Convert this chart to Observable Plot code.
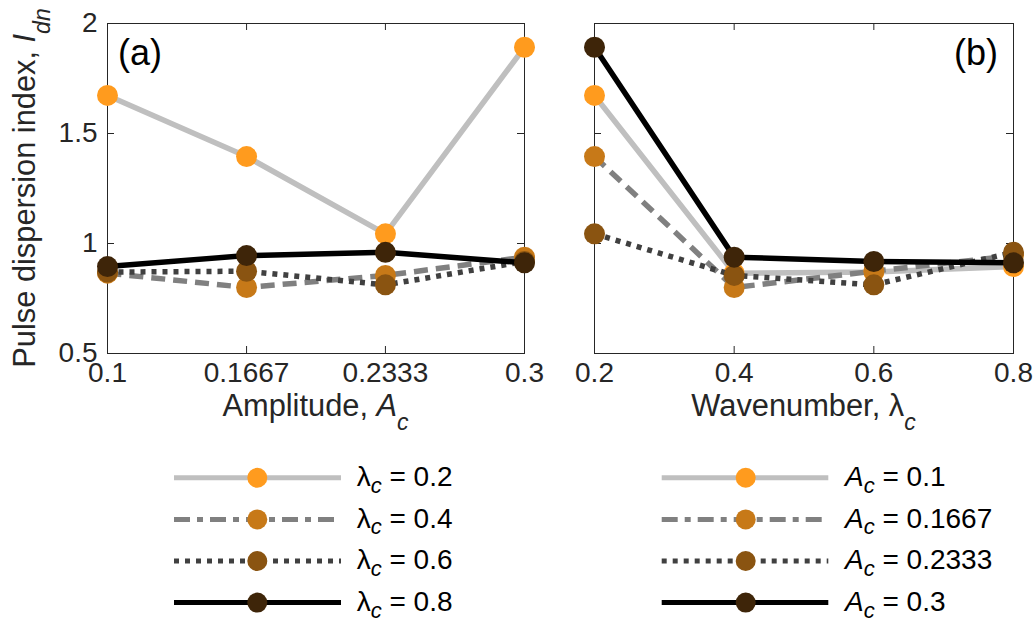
<!DOCTYPE html>
<html><head><meta charset="utf-8">
<script src="https://cdn.jsdelivr.net/npm/d3@7"></script>
<script src="https://cdn.jsdelivr.net/npm/@observablehq/plot@0.6"></script>
<style>
body{margin:0;background:#fff;}
#fig{position:relative;width:1036px;height:624px;font-family:"Liberation Sans",Arial,Helvetica,sans-serif;}
#fig svg{position:absolute;overflow:visible;}
</style></head><body><div id="fig"></div>
<script>
// ---- data ----
const amplitudes = [0.1, 0.1667, 0.2333, 0.3];
const wavenumbers = [0.2, 0.4, 0.6, 0.8];
const amplitudeTickLabels = ["0.1", "0.1667", "0.2333", "0.3"];
const wavenumberTickLabels = ["0.2", "0.4", "0.6", "0.8"];
const yTicks = [0.5, 1, 1.5, 2];
const yTickLabels = ["0.5", "1", "1.5", "2"];
// pulse dispersion index vs amplitude, one list per wavenumber
const idnLambda02 = [1.673, 1.395, 1.044, 1.892];
const idnLambda04 = [0.865, 0.800, 0.855, 0.938];
const idnLambda06 = [0.870, 0.874, 0.812, 0.918];
const idnLambda08 = [0.895, 0.945, 0.960, 0.912];
const lambdaLegendValues = ["0.2", "0.4", "0.6", "0.8"];
const amplitudeLegendValues = ["0.1", "0.1667", "0.2333", "0.3"];

// ---- styles ----
const lineColors = ["#bfbfbf", "#808080", "#404040", "#000000"];
const lineDash = [null, "14,8", "5,6", null];
const legendDash = [null, "16,7,6,7", "5,6", null];
const markerColors = ["#ff9b1e", "#c77918", "#8a5411", "#3e2509"];
const FONT = "Liberation Sans, Arial, Helvetica, sans-serif";
const AX = "#262626";

const seriesA = [idnLambda02, idnLambda04, idnLambda06, idnLambda08];
// panel (b): same table read the other way (one series per amplitude)
const seriesB = amplitudes.map((_, j) => seriesA.map(row => row[j]));

const fig = document.getElementById("fig");

function panel({xs, xLabels, series, left, width, mL, mR, showY}) {
  const H = 440, mT = 23, mB = 87, tick = 7;
  const fh = H - mT - mB, fw = width - mL - mR;
  const marks = [
    Plot.frame({stroke: AX, strokeWidth: 1}),
    Plot.tickX(xs, {x: d => d, insetTop: fh - tick, stroke: AX}),
    Plot.tickX(xs, {x: d => d, insetBottom: fh - tick, stroke: AX}),
    Plot.tickY(yTicks, {y: d => d, insetRight: fw - tick, stroke: AX}),
    Plot.tickY(yTicks, {y: d => d, insetLeft: fw - tick, stroke: AX})
  ];
  series.forEach((vals, s) => {
    const rows = vals.map((v, i) => ({x: xs[i], y: v}));
    marks.push(Plot.line(rows, {x: "x", y: "y", stroke: lineColors[s], strokeWidth: 5.5,
      strokeDasharray: lineDash[s], strokeLinecap: "butt", strokeLinejoin: "round"}));
    marks.push(Plot.dot(rows, {x: "x", y: "y", r: 10.5, fill: markerColors[s], stroke: "none"}));
  });
  marks.push(Plot.axisX({ticks: xs, tickSize: 0, tickPadding: 9, label: null,
    tickFormat: d => xLabels[xs.indexOf(d)], fill: AX}));
  if (showY) marks.push(Plot.axisY({ticks: yTicks, tickSize: 0, tickPadding: 10, label: null,
    tickFormat: d => yTickLabels[yTicks.indexOf(d)], fill: AX}));
  const svg = Plot.plot({
    width, height: H, marginLeft: mL, marginRight: mR, marginTop: mT, marginBottom: mB,
    x: {domain: [xs[0], xs[xs.length - 1]]},
    y: {domain: [yTicks[0], yTicks[yTicks.length - 1]], axis: showY ? undefined : null},
    style: {fontFamily: FONT, fontSize: "28px", color: AX, background: "transparent", overflow: "visible"},
    marks
  });
  svg.style.left = left + "px";
  svg.style.top = "0px";
  fig.appendChild(svg);
  return svg;
}

const svgA = panel({xs: amplitudes, xLabels: amplitudeTickLabels, series: seriesA,
  left: 0, width: 545, mL: 107, mR: 21, showY: true});
const svgB = panel({xs: wavenumbers, xLabels: wavenumberTickLabels, series: seriesB,
  left: 545, width: 491, mL: 49, mR: 23, showY: false});

// axis labels
function xLabel(svg, cx, main, italicMain) {
  const t = d3.select(svg).append("text").attr("x", cx).attr("y", 416)
    .attr("text-anchor", "middle").attr("font-size", 30.8).attr("fill", AX).attr("font-family", FONT);
  t.append("tspan").text(main);
  t.append("tspan").text(italicMain.sym).attr("font-style", italicMain.it ? "italic" : null);
  t.append("tspan").text("c").attr("font-style", "italic").attr("font-size", 23).attr("dy", 14);
}
xLabel(svgA, (107 + 524) / 2, "Amplitude, ", {sym: "A", it: true});
xLabel(svgB, 49 + (491 - 49 - 23) / 2, "Wavenumber, ", {sym: "λ", it: false});

const yl = d3.select(svgA).append("text").attr("transform", "translate(35,188) rotate(-90)")
  .attr("text-anchor", "middle").attr("font-size", 30.8).attr("fill", AX).attr("font-family", FONT);
yl.append("tspan").text("Pulse dispersion index, ");
yl.append("tspan").text("I").attr("font-style", "italic");
yl.append("tspan").text("dn").attr("font-style", "italic").attr("font-size", 23).attr("dy", 15);

// overlay: panel letters and legends
const ov = d3.select(fig).append("svg").attr("width", 1036).attr("height", 624)
  .style("left", "0px").style("top", "0px").attr("font-family", FONT);
ov.append("text").attr("x", 118).attr("y", 64.5).attr("font-size", 36).text("(a)");
ov.append("text").attr("x", 998).attr("y", 64.5).attr("font-size", 36).attr("text-anchor", "end").text("(b)");

function legend(x0, x1, xm, xt, sym, italic, values) {
  values.forEach((v, i) => {
    const y = 477.8 + i * 41.6;
    ov.append("line").attr("x1", x0).attr("x2", x1).attr("y1", y).attr("y2", y)
      .attr("stroke", lineColors[i]).attr("stroke-width", 5).attr("stroke-dasharray", legendDash[i]);
    ov.append("circle").attr("cx", xm).attr("cy", y).attr("r", 10).attr("fill", markerColors[i]);
    const t = ov.append("text").attr("x", xt).attr("y", y + 8.4).attr("font-size", 28).attr("fill", "#000");
    t.append("tspan").text(sym).attr("font-style", italic ? "italic" : null);
    t.append("tspan").text("c").attr("font-style", "italic").attr("font-size", 22).attr("dy", 6.6);
    t.append("tspan").text(" = " + v).attr("dy", -6.6);
  });
}
legend(174, 341, 257.3, 356.7, "λ", false, lambdaLegendValues);
legend(661.7, 828.3, 745.7, 845, "A", true, amplitudeLegendValues);
</script></body></html>
